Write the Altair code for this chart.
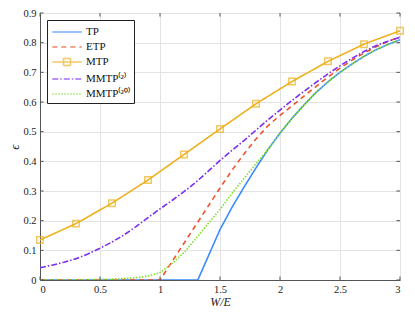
import altair as alt
import pandas as pd

# ---- data ----
series_names = ["TP", "ETP", "MTP", "MMTP⁽²⁾", "MMTP⁽²⁰⁾"]
colors = ["#3D8BFF", "#F0502A", "#EDB120", "#7A2EF0", "#7FE02A"]
dashes = [[1, 0], [5, 4], [1, 0], [6, 2, 1.5, 2], [1.5, 1.5]]

grid = [round(i * 0.1, 1) for i in range(31)]

tp_x = [0.0, 1.315] + [round(1.4 + i * 0.1, 1) for i in range(17)]
tp_y = [0, 0, 0.078, 0.17, 0.245, 0.313, 0.378, 0.44, 0.495, 0.545, 0.59, 0.632,
        0.668, 0.7, 0.728, 0.754, 0.776, 0.794, 0.81]

etp_x = [0.0] + [round(1.0 + i * 0.1, 1) for i in range(21)]
etp_y = [0, 0, 0.062, 0.124, 0.186, 0.248, 0.31, 0.37, 0.425, 0.475, 0.52, 0.555,
         0.587, 0.62, 0.652, 0.684, 0.714, 0.741, 0.765, 0.786, 0.804, 0.82]

mtp_x = [0.0, 0.3, 0.6, 0.9, 1.2, 1.5, 1.8, 2.1, 2.4, 2.7, 3.0]
mtp_y = [0.135, 0.19, 0.259, 0.337, 0.423, 0.509, 0.594, 0.669, 0.737, 0.795, 0.84]

mmtp2_y = [0.041, 0.05, 0.06, 0.072, 0.088, 0.107, 0.128, 0.152, 0.18, 0.21,
           0.24, 0.268, 0.298, 0.33, 0.366, 0.403, 0.437, 0.47, 0.505, 0.54,
           0.573, 0.605, 0.636, 0.666, 0.695, 0.722, 0.747, 0.77, 0.79, 0.805, 0.818]

mmtp20_y = [0, 0, 0, 0, 0.001, 0.002, 0.003, 0.005, 0.008, 0.013,
            0.025, 0.056, 0.092, 0.14, 0.19, 0.238, 0.292, 0.342, 0.392, 0.44,
            0.495, 0.545, 0.59, 0.632, 0.668, 0.7, 0.728, 0.754, 0.776, 0.794, 0.81]

x_ticks = [0, 0.5, 1, 1.5, 2, 2.5, 3]
y_ticks = [0, 0.1, 0.2, 0.3, 0.4, 0.5, 0.6, 0.7, 0.8, 0.9]

rows = []
for name, xs, ys in [("TP", tp_x, tp_y), ("ETP", etp_x, etp_y), ("MTP", mtp_x, mtp_y),
                     ("MMTP⁽²⁾", grid, mmtp2_y), ("MMTP⁽²⁰⁾", grid, mmtp20_y)]:
    for i, (xv, yv) in enumerate(zip(xs, ys)):
        rows.append({"series": name, "x": xv, "y": yv, "i": i})
df = pd.DataFrame(rows)
df_mtp = pd.DataFrame({"x": mtp_x, "y": mtp_y})
df_xt = pd.DataFrame({"x": x_ticks})
df_yt = pd.DataFrame({"y": y_ticks})

FONT = "Liberation Serif"
LINE_SYMBOL = "M-2.1,0H2.1"
MTP_SYMBOL = "M-2.1,0H2.1M-0.5,-0.5H0.5V0.5H-0.5Z"
legend_shapes = [LINE_SYMBOL, LINE_SYMBOL, MTP_SYMBOL, LINE_SYMBOL, LINE_SYMBOL]

xscale = alt.Scale(domain=[0, 3], nice=False)
yscale = alt.Scale(domain=[0, 0.9], nice=False)
cscale = alt.Scale(domain=series_names, range=colors)
dscale = alt.Scale(domain=series_names, range=dashes)
sscale = alt.Scale(domain=series_names, range=legend_shapes)

x_axis = alt.Axis(title="W/E", values=x_ticks, format="~g",
                  titleFontStyle="italic", titleFontWeight="normal", titleFont=FONT,
                  titleFontSize=12, labelFont=FONT, labelFontSize=10.5, tickSize=0,
                  labelPadding=4, titlePadding=2, gridColor="#e3e3e3",
                  domainColor="#555555", labelColor="#222222", titleColor="#222222")
y_axis = alt.Axis(title="ϵ", values=y_ticks, format="~g",
                  titleFontStyle="italic", titleFontWeight="normal", titleFont=FONT,
                  titleFontSize=13, labelFont=FONT, labelFontSize=10.5, tickSize=0,
                  labelPadding=4, titlePadding=1, gridColor="#e3e3e3",
                  domainColor="#555555", labelColor="#222222", titleColor="#222222")

legend = alt.Legend(
    title=None, orient="top-left", offset=7, strokeColor="#222222", fillColor="white",
    padding=4, labelFont=FONT, labelFontSize=11, labelColor="#111111",
    symbolSize=196, symbolStrokeWidth=1.6, rowPadding=2, labelOffset=11,
    symbolOffset=8,
)

X = alt.X("x:Q", scale=xscale, axis=x_axis)
Y = alt.Y("y:Q", scale=yscale, axis=y_axis)

# inside tick marks (MATLAB box style), placed at the tick values via the scales
TICK = dict(color="#555555", strokeWidth=1)
xt_len = 0.03     # data units along x
yt_len = 0.012    # data units along y
ticks_bottom = alt.Chart(df_xt).mark_rule(**TICK).encode(
    x=X, y=alt.YDatum(0, scale=yscale, axis=y_axis), y2=alt.Y2Datum(yt_len))
ticks_top = alt.Chart(df_xt).mark_rule(**TICK).encode(
    x=X, y=alt.YDatum(0.9, scale=yscale, axis=y_axis), y2=alt.Y2Datum(0.9 - yt_len))
ticks_left = alt.Chart(df_yt).mark_rule(**TICK).encode(
    y=Y, x=alt.XDatum(0, scale=xscale, axis=x_axis), x2=alt.X2Datum(xt_len))
ticks_right = alt.Chart(df_yt).mark_rule(**TICK).encode(
    y=Y, x=alt.XDatum(3, scale=xscale, axis=x_axis), x2=alt.X2Datum(3 - xt_len))

lines = alt.Chart(df).mark_line(strokeWidth=1.6, clip=True).encode(
    x=X, y=Y,
    color=alt.Color("series:N", scale=cscale, legend=legend),
    strokeDash=alt.StrokeDash("series:N", scale=dscale, legend=legend),
    order="i:Q",
)

points = alt.Chart(df_mtp).mark_point(shape="square", filled=False, size=42, strokeWidth=1.5).encode(
    x=X, y=Y,
    color=alt.value("#EDB120"),
)

# legend carrier: no visible marks, only the legend symbols
legend_layer = alt.Chart(df).mark_point(filled=False, strokeWidth=1.6).encode(
    x=X, y=Y,
    color=alt.Color("series:N", scale=cscale, legend=legend),
    strokeDash=alt.StrokeDash("series:N", scale=dscale, legend=legend),
    shape=alt.Shape("series:N", scale=sscale, legend=legend),
).transform_filter("datum.x < -1")

chart = alt.layer(lines, points, ticks_bottom, ticks_top, ticks_left, ticks_right,
                  legend_layer).properties(
    width=399, height=300, padding=0,
    autosize=alt.AutoSizeParams(type="fit", contains="padding"),
).configure_view(stroke="#555555", strokeWidth=1).configure(background="white")

chart.save("out.html", embed_options={"renderer": "svg", "actions": False})
